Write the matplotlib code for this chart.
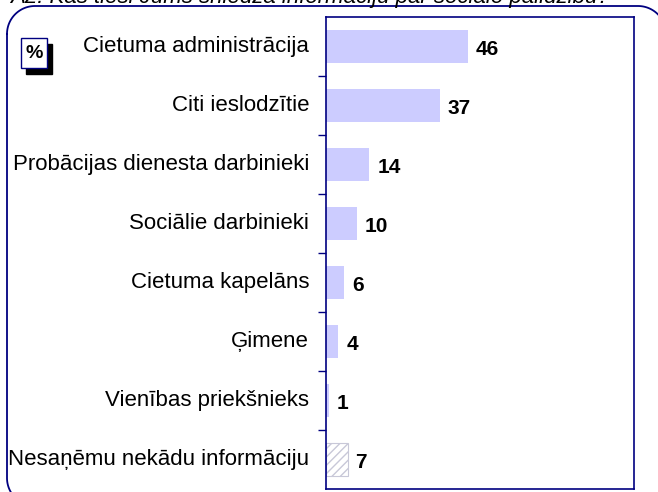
import numpy as np
import matplotlib.pyplot as plt
from matplotlib.patches import Rectangle

plt.rcParams['font.family'] = ['Liberation Sans', 'DejaVu Sans']
plt.rcParams['hatch.color'] = '#c8c8f0'

categories = ['Cietuma administrācija', 'Citi ieslodzītie', 'Probācijas dienesta darbinieki',
              'Sociālie darbinieki', 'Cietuma kapelāns', 'Ģimene', 'Vienības priekšnieks',
              'Nesaņēmu nekādu informāciju']
values = [46, 37, 14, 10, 6, 4, 1, 7]
title = 'A2. Kas tieši Jums sniedza informāciju par sociālo palīdzību?'

navy = '#000080'
fig = plt.figure(figsize=(6.58, 4.92), dpi=100)
W, H = 658, 492

# background axes in pixel units for the decorations
bg = fig.add_axes([0, 0, 1, 1])
bg.set_xlim(0, W)
bg.set_ylim(H, 0)
bg.axis('off')

# rounded frame (corners partly outside the picture)
r = 28
x0, x1, y0, y1 = 7, 666, 6, 506
t = np.linspace(0, np.pi / 2, 30)
fx = np.concatenate([x0 + r - r * np.cos(t), x1 - r + r * np.sin(t),
                     x1 - r + r * np.cos(t), x0 + r - r * np.sin(t), [x0]])
fy = np.concatenate([y0 + r - r * np.sin(t), y0 + r - r * np.cos(t),
                     y1 - r + r * np.sin(t), y1 - r + r * np.cos(t), [y0 + r]])
bg.plot(fx, fy, color=navy, linewidth=1.3, clip_on=False)

bg.add_patch(Rectangle((26, 44), 26, 30, facecolor='black', edgecolor='black'))
bg.add_patch(Rectangle((21, 38), 26, 30, facecolor='white', edgecolor=navy, linewidth=1))
bg.text(34, 54, '%', ha='center', va='center', fontsize=14, fontweight='bold')
bg.text(10, 3, title, ha='left', va='baseline', fontsize=16, style='italic', clip_on=False)

ax = fig.add_axes([326 / W, 1 - 489 / H, (634 - 326) / W, (489 - 17) / H])

ypos = list(range(len(categories)))
for i, v in enumerate(values):
    if i == len(values) - 1:
        ax.barh(i, v, height=0.55, color='white', edgecolor='#c8c8d8', hatch='////', linewidth=0.8)
    else:
        ax.barh(i, v, height=0.55, color='#ccccff', edgecolor='none')
    ax.text(v + 2.6, i + 0.05, str(v), va='center', ha='left', fontsize=15, fontweight='bold')

ax.set_xlim(0, 100)
ax.set_ylim(len(categories) - 0.5, -0.5)
ax.set_yticks([y + 0.5 for y in ypos[:-1]])
ax.set_yticklabels([])
ax.tick_params(axis='y', length=6, color=navy, width=1, direction='out')
ax.set_xticks([])
for i, c in enumerate(categories):
    ax.text(-0.055, i, c, transform=ax.get_yaxis_transform(), ha='right', va='center', fontsize=16)
for s in ax.spines.values():
    s.set_color(navy)
    s.set_linewidth(1.2)

fig.savefig('out.png', dpi=100)
